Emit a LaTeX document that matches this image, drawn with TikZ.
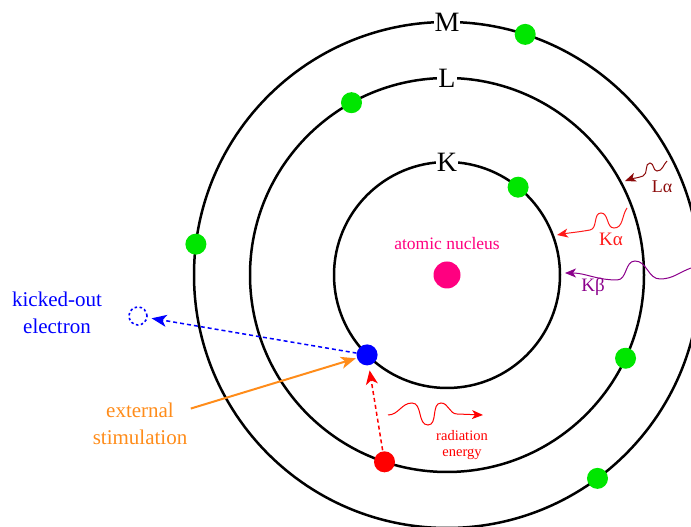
\documentclass[tikz,border=0pt]{standalone}
\usepackage{fontspec}
\setmainfont{Liberation Serif}
\usetikzlibrary{arrows.meta, positioning, calc}
\definecolor{shellgreen}{HTML}{00E600}
\definecolor{nucleuspink}{HTML}{FF0080}
\definecolor{stimorange}{HTML}{FF8C1A}
\definecolor{lalpha}{HTML}{8B0A0A}
\definecolor{kalpha}{HTML}{FF1A1A}
\definecolor{kbeta}{HTML}{8B008B}

\begin{document}
\begin{tikzpicture}[x=1pt, y=1pt, >={Stealth[length=15pt, width=12pt, inset=4pt]}]
    \tikzstyle{shell} = [draw=black, line width=2.5pt]
    \tikzstyle{electron} = [circle, inner sep=0pt, minimum size=21pt]
    \tikzstyle{shelllabel} = [fill=white, inner sep=1pt, font=\fontsize{28}{30}\selectfont]
    \tikzstyle{bigtext} = [align=center, font=\fontsize{21}{27}\selectfont]
    \tikzstyle{photon} = [-{Stealth[length=11pt, width=9pt, inset=3pt]}, line width=1pt]

    \clip (0,0) rectangle (691,527);
    \coordinate (center) at (447,252);

    % shells
    \draw [shell] (center) circle (113pt);
    \draw [shell] (center) circle (197pt);
    \draw [shell] (center) circle (253pt);
    \node [shelllabel] (labk) at ($(center)+(90:113pt)$) {K};
    \node [shelllabel] (labl) at ($(center)+(90:197pt)$) {L};
    \node [shelllabel] (labm) at ($(center)+(90:253pt)$) {M};

    % nucleus and electrons
    \node [circle, fill=nucleuspink, inner sep=0pt, minimum size=27pt] (nucleus) at (center) {};
    \node [text=nucleuspink, font=\fontsize{17.5}{20}\selectfont] (nuctext) at (447,283) {atomic nucleus};
    \node [electron, fill=shellgreen] (k1) at ($(center)+(51:113pt)$) {};
    \node [electron, fill=shellgreen] (l1) at ($(center)+(119:197pt)$) {};
    \node [electron, fill=shellgreen] (l2) at ($(center)+(-25:197pt)$) {};
    \node [electron, fill=shellgreen] (m1) at ($(center)+(72:253pt)$) {};
    \node [electron, fill=shellgreen] (m2) at ($(center)+(-53.5:253pt)$) {};
    \node [electron, fill=shellgreen] (m3) at ($(center)+(173:253pt)$) {};
    \node [electron, fill=blue] (hole) at ($(center)+(-135:113pt)$) {};
    \node [electron, fill=red] (jumper) at ($(center)+(251.5:197pt)$) {};

    % kicked-out electron
    \node [bigtext, text=blue] (kicktext) at (57,214) {kicked-out\\electron};
    \node [circle, draw=blue, line width=1.6pt, dash pattern=on 2.5pt off 2.5pt, minimum size=18pt, inner sep=0pt] (ghost) at (138,211) {};
    \path [draw, ->, blue, line width=1.5pt, dash pattern=on 4pt off 3pt, shorten >=4pt] (hole) -- (ghost);

    % external stimulation
    \node [bigtext, text=stimorange] (stimtext) at (140,103) {external\\stimulation};
    \path [draw, ->, stimorange, line width=2pt, shorten >=1pt] (stimtext) -- (hole);
    \path [draw, ->, red, line width=1.5pt, dash pattern=on 4pt off 3pt, shorten >=5pt, shorten <=1pt,
        >={Stealth[length=14pt, width=12pt, inset=4pt]}] (jumper) -- (hole);

    % radiation energy
    \coordinate (radstart) at (388,112);
    \coordinate (radend) at (483,112);
    \draw [photon, red] (radstart) to[out=0, in=180] (412,124) to[out=0, in=180] (428,102)
        to[out=0, in=180] (441,124) to[out=0, in=180] (457,113) -- (radend);
    \node [text=red, align=center, font=\fontsize{14.5}{16}\selectfont] (radtext) at (462,82) {radiation\\energy};

    % emitted lines
    \coordinate (lastart) at (667,366);
    \coordinate (laend) at (625,346);
    \draw [photon, lalpha] (lastart) to[out=225, in=0] (657,356) to[out=180, in=0] (650,364)
        to[out=180, in=20] (643,351) to[out=200, in=20] (laend);
    \node [text=lalpha, font=\fontsize{18}{20}\selectfont] (latext) at (662,340) {Lα};

    \coordinate (kastart) at (627,319);
    \coordinate (kaend) at (557,292);
    \draw [photon, kalpha] (kastart) to[out=235, in=0] (614,299) to[out=180, in=0] (601,314)
        to[out=180, in=10] (590,297) to[out=190, in=10] (kaend);
    \node [text=kalpha, font=\fontsize{19}{20}\selectfont] (katext) at (611,288) {Kα};

    \coordinate (kbstart) at (691,259);
    \coordinate (kbend) at (565,254);
    \draw [photon, kbeta] (kbstart) to[out=200, in=0] (660,248) to[out=180, in=0] (635,266)
        to[out=180, in=0] (617,247) to[out=180, in=0] (kbend);
    \node [text=kbeta, font=\fontsize{19}{20}\selectfont] (kbtext) at (593,240) {Kβ};
\end{tikzpicture}
\end{document}
